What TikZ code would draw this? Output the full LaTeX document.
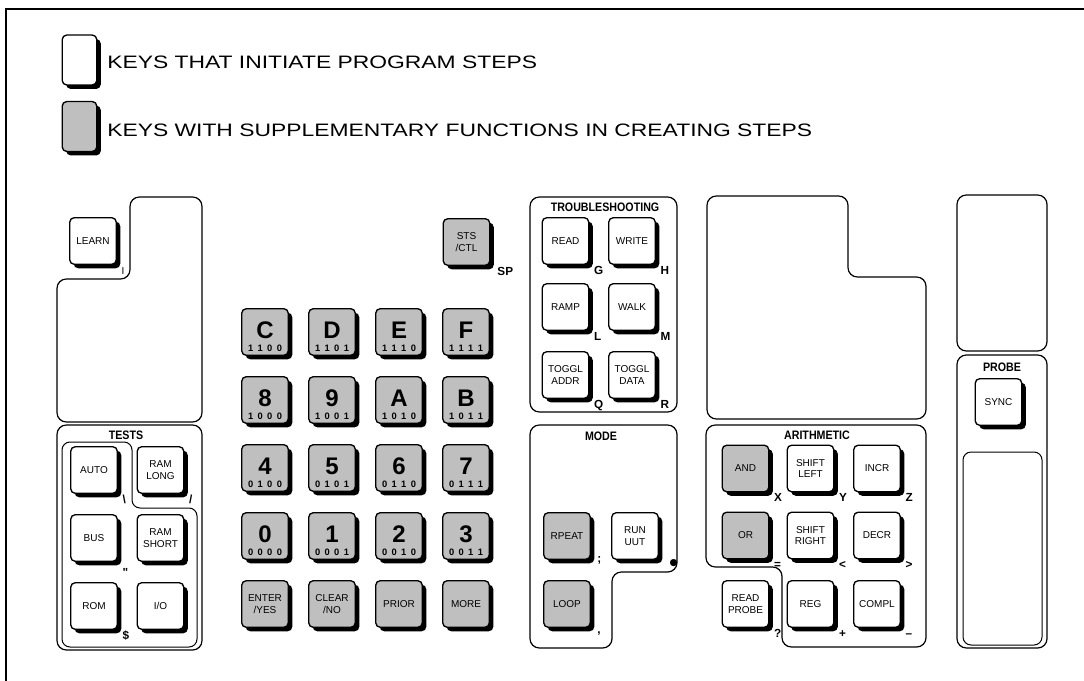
\documentclass[tikz,border=0pt]{standalone}
\usepackage{fontspec}
\setmainfont{Liberation Sans}
\newfontfamily\legfam[FakeStretch=1.27]{Liberation Sans}
\newfontfamily\titlefam[FakeStretch=0.87]{Liberation Sans}
\newfontfamily\symfam{DejaVu Sans}
\usetikzlibrary{shadows}
\newcommand\keytxt{\fontsize{7.5pt}{8.8pt}\selectfont}
\newcommand\labtxt{\bfseries\fontsize{8.8pt}{9pt}\selectfont}
\newcommand\titletxt{\titlefam\bfseries\fontsize{9.2pt}{9.5pt}\selectfont}
\newcommand\bigtxt{\bfseries\fontsize{18pt}{18pt}\selectfont}
\newcommand\bintxt{\bfseries\fontsize{7pt}{7pt}\selectfont}
\newcommand\legtxt{\legfam\fontsize{13.5pt}{14pt}\selectfont}
\newcommand\bits[4]{#1\kern3.3pt#2\kern3.3pt#3\kern3.3pt#4}
\newcommand\hexkey[4]{%
  \node[gkey] (k#1) at (#2,#3) {};
  \node[bigch] (c#1) at ([yshift=1.5pt]k#1.center) {#1};
  \node[binch] (b#1) at ([yshift=-12pt]k#1.center) {\bits#4};}
\newcommand\klabel[3][]{%
  \node[klab,#1] (l#2) at ([xshift=3.3pt,yshift=-6.8pt]k#2.south east) {#3};}
\begin{document}
\begin{tikzpicture}[x=0.75pt,y=-0.75pt,
  panel/.style={draw,line width=0.9pt,rounded corners=7pt},
  innerpanel/.style={draw,line width=0.75pt,rounded corners=6pt},
  keybase/.style={draw,line width=1pt,rounded corners=3.5pt,minimum width=35pt,
    minimum height=35pt,inner sep=1pt,align=center,font=\keytxt,
    drop shadow={shadow xshift=3pt,shadow yshift=-3pt,opacity=1,fill=black}},
  wkey/.style={keybase,fill=white},
  gkey/.style={keybase,fill=black!25},
  klab/.style={font=\labtxt,inner sep=0pt,anchor=base west},
  ptitle/.style={font=\titletxt,inner sep=0pt},
  bigch/.style={font=\bigtxt,inner sep=0pt},
  binch/.style={font=\bintxt,inner sep=0pt},
  legtext/.style={font=\legtxt,anchor=west,inner sep=0pt}]
\useasboundingbox (0,0) rectangle (1084,681);
% frame
\draw[line width=1.2pt] (6,681) -- (6,9) -- (1084,9);
% legend
\node[wkey,minimum width=26pt,minimum height=37.5pt] (legw) at (79.5,60) {};
\node[legtext] (legt1) at (107,62) {KEYS THAT INITIATE PROGRAM STEPS};
\node[gkey,minimum width=26pt,minimum height=37.5pt] (legg) at (79.5,126.5) {};
\node[legtext] (legt2) at (107,130) {KEYS WITH SUPPLEMENTARY FUNCTIONS IN CREATING STEPS};
% panels
\draw[panel] (57,422) -- (57,279) -- (130,279) -- (130,197) -- (202,197) -- (202,422) -- cycle;
\draw[panel] (57,425) rectangle (202,650);
\draw[innerpanel] (62,442) -- (132,442) -- (132,508) -- (197,508) -- (197,647) -- (62,647) -- cycle;
\draw[panel] (530,197) rectangle (677,412);
\draw[panel] (707,196) -- (848,196) -- (848,277) -- (926,277) -- (926,419) -- (707,419) -- cycle;
\draw[panel] (530,425) -- (677,425) -- (677,572) -- (612,572) -- (612,648) -- (530,648) -- cycle;
\draw[panel] (706,425) -- (926,425) -- (926,647) -- (782,647) -- (782,567) -- (706,567) -- cycle;
\draw[panel] (957,195) rectangle (1047,351);
\draw[panel] (957,355) rectangle (1047,648);
\draw[innerpanel] (963,452) rectangle (1042,645);
% titles
\node[ptitle] (tTESTS) at (126,435) {TESTS};
\node[ptitle] (tTROUBLE) at (605,207) {TROUBLESHOOTING};
\node[ptitle] (tMODE) at (601,436) {MODE};
\node[ptitle] (tARITH) at (817,435) {ARITHMETIC};
\node[ptitle] (tPROBE) at (1002,367) {PROBE};
% learn and tests
\node[wkey] (kLEARN) at (93,241) {LEARN};
\node[wkey] (kAUTO) at (94,470) {AUTO};
\node[wkey] (kRAML) at (160.5,470) {RAM\\LONG};
\node[wkey] (kBUS) at (94,538) {BUS};
\node[wkey] (kRAMS) at (160.5,538) {RAM\\SHORT};
\node[wkey] (kROM) at (94,606) {ROM};
\node[wkey] (kIO) at (160.5,606) {I/O};
\klabel[font=\keytxt]{LEARN}{I}
\klabel{AUTO}{\textbackslash}
\klabel{RAML}{/}
\node[klab] (lBUS) at ([xshift=3.3pt,yshift=-10.5pt]kBUS.south east) {\textquotedbl};
\klabel{ROM}{\$}
% keypad
\node[gkey] (kSTS) at (466.5,242) {STS\\/CTL};
\node[klab] (lSTS) at ([xshift=5pt,yshift=-6.8pt]kSTS.south east) {SP};
\hexkey{C}{265}{332}{{1}{1}{0}{0}}
\hexkey{D}{332}{332}{{1}{1}{0}{1}}
\hexkey{E}{399}{332}{{1}{1}{1}{0}}
\hexkey{F}{466}{332}{{1}{1}{1}{1}}
\hexkey{8}{265}{400}{{1}{0}{0}{0}}
\hexkey{9}{332}{400}{{1}{0}{0}{1}}
\hexkey{A}{399}{400}{{1}{0}{1}{0}}
\hexkey{B}{466}{400}{{1}{0}{1}{1}}
\hexkey{4}{265}{468}{{0}{1}{0}{0}}
\hexkey{5}{332}{468}{{0}{1}{0}{1}}
\hexkey{6}{399}{468}{{0}{1}{1}{0}}
\hexkey{7}{466}{468}{{0}{1}{1}{1}}
\hexkey{0}{265}{536}{{0}{0}{0}{0}}
\hexkey{1}{332}{536}{{0}{0}{0}{1}}
\hexkey{2}{399}{536}{{0}{0}{1}{0}}
\hexkey{3}{466}{536}{{0}{0}{1}{1}}
\node[gkey] (kENTER) at (265,604) {ENTER\\/YES};
\node[gkey] (kCLEAR) at (332,604) {CLEAR\\/NO};
\node[gkey] (kPRIOR) at (399,604) {PRIOR};
\node[gkey] (kMORE) at (466,604) {MORE};
% troubleshooting
\node[wkey] (kREAD) at (565.5,241) {READ};
\node[wkey] (kWRITE) at (632,241) {WRITE};
\node[wkey] (kRAMP) at (565.5,307) {RAMP};
\node[wkey] (kWALK) at (632,307) {WALK};
\node[wkey] (kTA) at (565.5,375) {TOGGL\\ADDR};
\node[wkey] (kTD) at (632,375) {TOGGL\\DATA};
\klabel{READ}{G}
\klabel{WRITE}{H}
\klabel{RAMP}{L}
\klabel{WALK}{M}
\klabel{TA}{Q}
\klabel{TD}{R}
% mode
\node[gkey] (kRPT) at (567,536) {RPEAT};
\node[wkey] (kRUN) at (635,536) {RUN\\UUT};
\node[gkey] (kLOOP) at (567,604) {LOOP};
\node[klab] (lRPT) at ([xshift=4.5pt,yshift=-2pt]kRPT.south east) {;};
\node[inner sep=0pt,font=\symfam\fontsize{7pt}{7pt}\selectfont] (lRUN) at ([xshift=11pt,yshift=-2pt]kRUN.south east) {●};
\node[klab] (lLOOP) at ([xshift=4.5pt,yshift=-4pt]kLOOP.south east) {,};
% arithmetic
\node[gkey] (kAND) at (745.5,468.5) {AND};
\node[wkey] (kSHL) at (810.5,468.5) {SHIFT\\LEFT};
\node[wkey] (kINCR) at (877,468.5) {INCR};
\node[gkey] (kOR) at (745.5,535.5) {OR};
\node[wkey] (kSHR) at (810.5,535.5) {SHIFT\\RIGHT};
\node[wkey] (kDECR) at (877,535.5) {DECR};
\node[wkey] (kRP) at (745.5,604) {READ\\PROBE};
\node[wkey] (kREG) at (810.5,604) {REG};
\node[wkey] (kCOMPL) at (877,604) {COMPL};
\klabel{AND}{X}
\klabel{SHL}{Y}
\klabel{INCR}{Z}
\klabel{OR}{=}
\klabel{SHR}{<}
\klabel{DECR}{>}
\klabel{RP}{?}
\klabel{REG}{+}
\klabel{COMPL}{–}
% probe
\node[wkey] (kSYNC) at (998.5,402) {SYNC};
\end{tikzpicture}
\end{document}
